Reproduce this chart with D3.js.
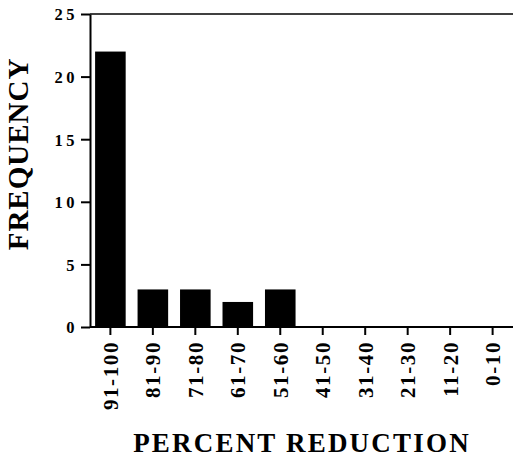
<!DOCTYPE html>
<html lang="en">
<head>
  <meta charset="UTF-8">
  <title>Frequency by percent reduction</title>
  <style>
    body { margin: 0; background: #fff; }
    svg text { font-family: "Liberation Serif", "Times New Roman", serif; font-weight: bold; fill: #000; }
  </style>
</head>
<body>
  <div id="chart"></div>
  <script src="https://d3js.org/d3.v7.min.js"></script>
  <script>
    const categories = ["91-100", "81-90", "71-80", "61-70", "51-60", "41-50", "31-40", "21-30", "11-20", "0-10"];
    const frequency = [22, 3, 3, 2, 3, 0, 0, 0, 0, 0];
    const yTicks = [0, 5, 10, 15, 20, 25];

    const width = 513, height = 462;
    const plotLeft = 90, plotTop = 14, plotBottom = 327, plotRight = 513;

    const svg = d3.select("#chart").append("svg")
      .attr("width", width)
      .attr("height", height);

    const x = d3.scaleBand()
      .domain(categories)
      .range([plotLeft, plotRight])
      .paddingInner(0.28)
      .paddingOuter(0.12);

    const y = d3.scaleLinear()
      .domain([0, 25])
      .range([plotBottom, plotTop]);

    // bars
    svg.selectAll(".bar")
      .data(categories)
      .enter()
      .append("rect")
      .attr("class", "bar")
      .attr("x", d => x(d))
      .attr("width", x.bandwidth())
      .attr("y", (d, i) => y(frequency[i]))
      .attr("height", (d, i) => y(0) - y(frequency[i]))
      .attr("fill", "#000");

    // top frame line
    svg.append("line")
      .attr("x1", plotLeft).attr("x2", plotRight)
      .attr("y1", plotTop).attr("y2", plotTop)
      .attr("stroke", "#000").attr("stroke-width", 1.6);

    // y axis
    const yAxis = svg.append("g")
      .attr("transform", `translate(${plotLeft},0)`)
      .call(d3.axisLeft(y).tickValues(yTicks).tickSize(9).tickPadding(3).tickSizeOuter(0));
    yAxis.select(".domain").attr("stroke-width", 2);
    yAxis.selectAll(".tick line").attr("stroke-width", 2);
    yAxis.selectAll(".tick text")
      .style("font-size", "16.5px")
      .style("letter-spacing", "3.5px")
      .attr("dy", "0.36em");

    // x axis
    const xAxis = svg.append("g")
      .attr("transform", `translate(0,${plotBottom})`)
      .call(d3.axisBottom(x).tickSize(8).tickSizeOuter(0));
    xAxis.select(".domain").attr("stroke-width", 2).attr("d", `M${plotLeft},0H${plotRight}`);
    xAxis.selectAll(".tick line").attr("stroke-width", 2);
    xAxis.selectAll(".tick text")
      .style("font-size", "21px")
      .style("letter-spacing", "1.6px")
      .attr("text-anchor", "end")
      .attr("transform", "rotate(-90)")
      .attr("x", -14)
      .attr("y", 0)
      .attr("dy", "0.35em");

    // axis titles
    svg.append("text")
      .attr("transform", `translate(28,154) rotate(-90)`)
      .attr("text-anchor", "middle")
      .style("font-size", "29px")
      .style("letter-spacing", "1px")
      .text("FREQUENCY");

    svg.append("text")
      .attr("x", 302)
      .attr("y", 452)
      .attr("text-anchor", "middle")
      .style("font-size", "27px")
      .style("letter-spacing", "2.2px")
      .text("PERCENT REDUCTION");
  </script>
</body>
</html>
